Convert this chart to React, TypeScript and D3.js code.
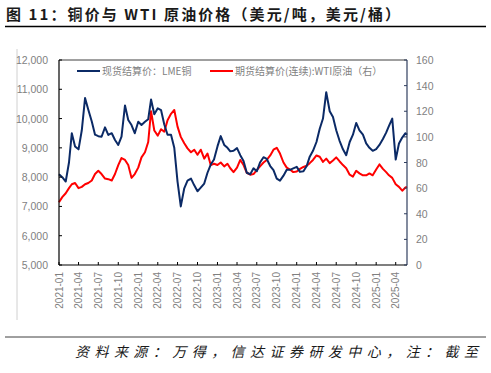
import React from "react";
import * as d3 from "d3";

// semi-monthly observations (1st and 16th of each month), plus the last day
const copper = [
  8100, 8000, 7850, 8500, 9500, 9050, 8950, 9600, 10700, 10300,
  9900, 9450, 9400, 9380, 9700, 9440, 9500, 9270, 9100, 9380,
  10450, 9950, 9780, 9500, 9890, 9780, 9890, 9980, 10650, 10150,
  10350, 10290, 9800, 9450, 9450, 9000, 7850, 7000, 7620, 7880,
  7950, 7720, 7520, 7640, 7780, 8150, 8430, 8600, 9050, 9400,
  9100, 9000, 8880, 8900, 8990, 8750, 8550, 8150, 8100, 8300,
  8200, 8500, 8680, 8620, 8380, 8240, 7950, 7880, 8050, 8250,
  8250, 8300, 8350, 8180, 8200, 8380, 8700, 8900, 9200, 9650,
  10000, 10900, 10250, 10050, 9600, 9250, 8950, 8750, 9200, 9450,
  9850, 9600, 9450, 9150, 9000, 8900, 8960, 9100, 9300, 9520,
  9750, 10000, 8600, 9150, 9350, 9500, 9450,
];

const wti = [
  49, 53, 56, 60, 63, 64, 60, 61, 63, 64,
  66, 71, 73.5, 71, 67.5, 67, 66, 71, 78, 83.5,
  82, 78, 68, 71, 76, 84, 88, 96, 120, 105,
  101, 106, 104, 113, 118, 121, 108, 100, 95, 91,
  88, 90, 86, 90, 83, 87, 78, 79, 78, 80,
  77, 79, 75.5, 72.5, 76, 82, 78, 72, 70.5, 71,
  74, 77, 80, 82, 85.5, 90, 91.5, 87, 80, 76,
  74.5, 72.5, 73, 75, 76.5, 77.5, 79.5, 82, 85.5, 84.5,
  80.5, 83, 79.5, 81.5, 84, 81, 78, 75.5, 70.5, 69,
  73.5, 71.5, 70, 70, 71.5, 70, 74.5, 78.5, 75, 72.5,
  70, 68, 63, 61, 58, 60.5, 61,
];

const startDate = new Date(2021, 0, 1);
const endDate = new Date(2025, 4, 23);

const dates: Date[] = [];
d3.timeMonth.range(startDate, new Date(2025, 5, 1)).forEach((m) => {
  dates.push(m, new Date(m.getFullYear(), m.getMonth(), 16));
});
dates.push(endDate);

const leftTicks = [5000, 6000, 7000, 8000, 9000, 10000, 11000, 12000];
const rightTicks = [0, 20, 40, 60, 80, 100, 120, 140, 160];
const xTicks = d3.timeMonth.every(3)!.range(startDate, new Date(2025, 4, 2));

const title = "图 11：铜价与 WTI 原油价格（美元/吨，美元/桶）";
const seriesNames = ["现货结算价：LME铜", "期货结算价(连续):WTI原油（右）"];
const source = "资料来源：万得，信达证券研发中心，注：截至";

const BLUE = "#0b2a66";
const RED = "#ff0000";
const GREY = "#7f7f7f";

const App: React.FC = () => {
  const left = 59, right = 407, top = 60, bottom = 265;

  const x = d3.scaleTime().domain([startDate, endDate]).range([left, right]);
  const yL = d3.scaleLinear().domain([5000, 12000]).range([bottom, top]);
  const yR = d3.scaleLinear().domain([0, 160]).range([bottom, top]);

  const copperLine = d3
    .line<number>()
    .x((_, i) => x(dates[i]))
    .y((d) => yL(d));
  const wtiLine = d3
    .line<number>()
    .x((_, i) => x(dates[i]))
    .y((d) => yR(d));

  const fmt = d3.format(",");
  const fmtDate = d3.timeFormat("%Y-%m");
  const font = "'Liberation Sans', Arial, sans-serif";
  const cjk = "'Noto Sans CJK SC', 'Liberation Sans', sans-serif";

  return (
    <svg
      width={491}
      height={373}
      style={{ position: "absolute", left: 0, top: 0, background: "#fff" }}
    >
      {/* title */}
      <text
        x={6}
        y={20}
        fontFamily={cjk}
        fontWeight="bold"
        fontSize={15}
        fill="#1a1a1a"
        textLength={394}
        lengthAdjust="spacing"
      >
        {title}
      </text>
      <line x1={5} x2={486} y1={26.5} y2={26.5} stroke="#000" strokeWidth={1.3} />

      {/* outer chart border */}
      <line x1={17} x2={17} y1={49} y2={320} stroke="#d0d0d0" strokeWidth={1} />

      {/* series */}
      <path d={wtiLine(wti) || ""} fill="none" stroke={RED} strokeWidth={2} strokeLinejoin="round" />
      <path d={copperLine(copper) || ""} fill="none" stroke={BLUE} strokeWidth={2} strokeLinejoin="round" />

      {/* frame */}
      <line x1={left} x2={right} y1={top} y2={top} stroke="#404040" strokeWidth={1} />
      <line x1={left} x2={left} y1={top} y2={bottom} stroke="#000" strokeWidth={1.2} />
      <line x1={right} x2={right} y1={top} y2={bottom} stroke="#2f3e5e" strokeWidth={1.2} />
      <line x1={left} x2={right} y1={bottom} y2={bottom} stroke="#000" strokeWidth={1.2} />

      {/* left axis */}
      {leftTicks.map((t) => (
        <g key={"l" + t}>
          <line x1={left} x2={left + 3} y1={yL(t)} y2={yL(t)} stroke="#000" />
          <text x={48} y={yL(t) + 4} textAnchor="end" fontFamily={font} fontSize={10.5} fill={GREY}>
            {fmt(t)}
          </text>
        </g>
      ))}

      {/* right axis */}
      {rightTicks.map((t) => (
        <g key={"r" + t}>
          <line x1={right - 3} x2={right} y1={yR(t)} y2={yR(t)} stroke="#2f3e5e" />
          <text x={416} y={yR(t) + 4} fontFamily={font} fontSize={10.5} fill={GREY}>
            {t}
          </text>
        </g>
      ))}

      {/* x axis */}
      {xTicks.map((d) => (
        <g key={d.toISOString()}>
          <line x1={x(d)} x2={x(d)} y1={bottom} y2={bottom - 3} stroke="#000" />
          <text
            transform={`translate(${x(d) + 3.5},${272}) rotate(-90)`}
            textAnchor="end"
            fontFamily={font}
            fontSize={10}
            fill={GREY}
          >
            {fmtDate(d)}
          </text>
        </g>
      ))}

      {/* legend */}
      <line x1={77} x2={100} y1={71} y2={71} stroke={BLUE} strokeWidth={2} />
      <text x={102} y={74.5} fontFamily={cjk} fontSize={10} fill={GREY}>
        {seriesNames[0]}
      </text>
      <line x1={210} x2={233} y1={71} y2={71} stroke={RED} strokeWidth={2} />
      <text x={235} y={74.5} fontFamily={cjk} fontSize={10} fill={GREY}>
        {seriesNames[1]}
      </text>

      {/* footer */}
      <line x1={5} x2={486} y1={337} y2={337} stroke="#404040" strokeWidth={1} />
      <text
        x={75}
        y={357}
        fontFamily={cjk}
        fontStyle="italic"
        fontSize={14}
        textLength={403}
        lengthAdjust="spacing"
        fill="#1a1a1a"
      >
        {source}
      </text>
      <text x={58} y={383} fontFamily={font} fontStyle="italic" fontSize={15} fill="#1a1a1a">
        2025-05-23
      </text>
    </svg>
  );
};

export default App;
